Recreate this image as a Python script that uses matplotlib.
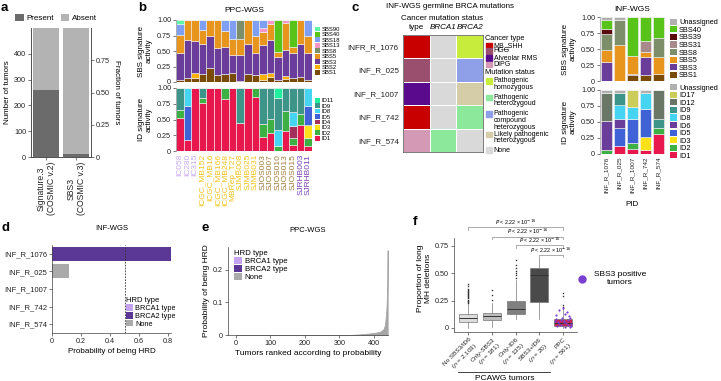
import matplotlib.pyplot as plt
import numpy as np
from matplotlib.colors import ListedColormap
from matplotlib.lines import Line2D
from matplotlib.patches import Patch, Rectangle

plt.rcParams['font.family'] = ['Liberation Sans', 'DejaVu Sans']
plt.rcParams['font.size'] = 5.5
plt.rcParams['axes.linewidth'] = 0.5
plt.rcParams['axes.edgecolor'] = '#444444'
for k in ['xtick', 'ytick']:
    plt.rcParams[k + '.major.width'] = 0.5
    plt.rcParams[k + '.major.size'] = 2
    plt.rcParams[k + '.major.pad'] = 1.5
    plt.rcParams[k + '.labelsize'] = 5.2
    plt.rcParams[k + '.color'] = '#444444'
    plt.rcParams[k + '.labelcolor'] = '#222222'
plt.rcParams['axes.labelsize'] = 5.8
plt.rcParams['axes.labelpad'] = 2

W, H = 721, 381

# ---- panel a
a_labels = ['Signature.3\n(COSMIC v.2)', 'SBS3\n(COSMIC v.3)']
a_present = [260, 12]
a_absent = [240, 488]

# ---- panel b (PPC-WGS)
ppc_samples = ['IC058', 'IC280', 'IC315', 'ICGC_MB152', 'ICGC_MB16', 'ICGC_MB166', 'ICGC_MB248',
               'MBRep_T27', 'SJMB008', 'SJMB025', 'SJMB031', 'SJOS003', 'SJOS007', 'SJOS010',
               'SJOS013', 'SJOS015', 'SJRHB003', 'SJRHB011']
ppc_groups = ['IC', 'IC', 'IC', 'MB', 'MB', 'MB', 'MB', 'MB', 'MB', 'MB', 'MB',
              'OS', 'OS', 'OS', 'OS', 'OS', 'RHB', 'RHB']
ppc_sbs_names = ['SBS1', 'SBS2', 'SBS3', 'SBS5', 'SBS8', 'SBS13', 'SBS18', 'SBS40', 'SBS90']
ppc_sbs = [
    [.04, .07, .07, .13, .23, .12, .13, .14, .02, .13, .12, .04, .08, .04, .05, .07, .08, .04],
    [0, 0, .08, 0, 0, 0, 0, 0, 0, 0, 0, .09, .06, 0, .04, 0, 0, 0],
    [.43, .61, .51, .49, .52, .43, .44, .30, .42, .49, .35, .47, .54, .36, .42, .39, .53, .43],
    [.29, .32, .34, .22, .25, .45, .25, .25, .25, .38, .28, .20, .26, .08, .44, .11, .39, .28],
    [0, 0, 0, 0, 0, 0, 0, 0, .31, 0, 0, 0, 0, 0, 0, 0, 0, 0],
    [0, 0, 0, 0, 0, 0, 0, 0, 0, 0, 0, .07, .06, 0, .05, 0, 0, 0],
    [.17, 0, 0, .16, 0, 0, .18, .31, 0, 0, .25, .13, 0, 0, 0, 0, 0, .25],
    [0, 0, 0, 0, 0, 0, 0, 0, 0, 0, 0, 0, 0, .52, 0, .43, 0, 0],
    [.07, 0, 0, 0, 0, 0, 0, 0, 0, 0, 0, 0, 0, 0, 0, 0, 0, 0],
]
ppc_id_names = ['ID1', 'ID2', 'ID3', 'ID4', 'ID5', 'ID8', 'ID9', 'ID11']
ppc_id = [
    [.53, .18, 1, .76, 1, 1, .82, 1, .44, 1, .85, .23, .28, 0, .31, .09, .41, .08],
    [.12, 0, 0, .08, 0, 0, .18, 0, 0, 0, .15, .20, .23, .08, .33, .12, .18, .13],
    [0, 0, 0, 0, 0, 0, 0, 0, 0, 0, 0, 0, 0, 0, 0, 0, 0, .20],
    [0, 0, 0, 0, 0, 0, 0, 0, 0, 0, 0, 0, 0, 0, 0, .18, 0, 0],
    [0, .54, 0, 0, 0, 0, 0, 0, 0, 0, 0, 0, 0, 0, 0, 0, 0, .31],
    [0, .28, 0, 0, 0, 0, 0, 0, 0, 0, 0, 0, 0, .25, 0, .23, 0, .28],
    [.35, 0, 0, .16, 0, 0, 0, 0, .56, 0, 0, .57, .49, .51, .36, .38, .41, 0],
    [0, 0, 0, 0, 0, 0, 0, 0, 0, 0, 0, 0, 0, .16, 0, 0, 0, 0],
]

# ---- panel c (INF-WGS)
c_title = 'INF-WGS germline BRCA mutations'
c_rows = ['INFR_R_1076', 'INF_R_025', 'INF_R_1007', 'INF_R_742', 'INF_R_574']
c_cancer_type = ['MB_SHH', 'HGG', 'Alveolar RMS', 'MB_SHH', 'DIPG']
c_brca1 = ['None', 'None', 'None', 'None', 'Pathogenic heterozygous']
c_brca2 = ['Pathogenic homozygous', 'Pathogenic compound heterozygous',
           'Likely pathogenic heterozygous', 'Pathogenic heterozygous', 'None']

inf_samples = ['INF_R_1076', 'INF_R_025', 'INF_R_1007', 'INF_R_742', 'INF_R_574']
inf_sbs_names = ['SBS1', 'SBS3', 'SBS5', 'SBS8', 'SBS31', 'SBS39', 'SBS40', 'Unassigned']
inf_sbs = [
    [0, 0, .10, .09, .11],
    [.29, 0, .01, .29, 0],
    [.20, .57, .28, .08, .27],
    [.25, .39, 0, 0, .29],
    [0, 0, 0, .17, 0],
    [.08, 0, 0, 0, 0],
    [.14, 0, .61, .37, .33],
    [.04, .04, 0, 0, 0],
]
inf_id_names = ['ID1', 'ID2', 'ID3', 'ID5', 'ID6', 'ID8', 'ID9', 'ID12', 'ID17', 'Unassigned']
inf_id = [
    [0, .12, .08, .07, .32],
    [.06, 0, .09, 0, .09],
    [0, 0, 0, .19, 0],
    [0, .29, .38, .45, 0],
    [.45, .13, 0, 0, 0],
    [0, .22, .18, .25, 0],
    [0, .19, 0, 0, .13],
    [.44, 0, 0, 0, .46],
    [0, 0, .27, 0, 0],
    [.05, .05, 0, .04, 0],
]

# ---- panel d
d_samples = ['INF_R_1076', 'INF_R_025', 'INF_R_1007', 'INF_R_742', 'INF_R_574']
d_prob = [0.82, 0.12, 0.003, 0.0, 0.0]
d_type = ['BRCA2 type', 'None', 'None', 'None', 'None']

# ---- panel e
e_rank = [1, 330, 360, 390, 410, 420, 428, 432, 435, 437, 438, 439, 440]
e_prob = [0, 0, 0.002, 0.005, 0.008, 0.011, 0.018, 0.03, 0.06, 0.09, 0.12, 0.15, 0.26]

# ---- panel f
f_labels = ['No SBS3/ID6\n($n$ = 2,103)', 'Only-SBS3\n($n$ = 181)', 'Only-ID6\n($n$ = 135)',
            'SBS3+ID6\n($n$ = 20)', 'PPC\n($n$ = 561)']
f_med = [0.09, 0.11, 0.175, 0.485, 0.043]
f_q1 = [0.058, 0.073, 0.125, 0.235, 0.02]
f_q3 = [0.125, 0.14, 0.25, 0.55, 0.083]
f_whislo = [0.0, 0.012, 0.08, 0.08, 0.0]
f_whishi = [0.22, 0.23, 0.44, 0.64, 0.17]
f_fliers = [
    [0.23, 0.24, 0.25, 0.26, 0.27, 0.28, 0.29, 0.30, 0.31, 0.32, 0.33, 0.34, 0.35, 0.36, 0.38, 0.40],
    [0.26, 0.30, 0.35],
    [0.46, 0.48, 0.50, 0.52, 0.55, 0.58, 0.62],
    [],
    [0.19, 0.21, 0.29, 0.32],
]
f_pos_dx = [-0.3, -0.2, -0.1, 0.05, 0.15, 0.25, 0.32, -0.25, -0.05, 0.1, 0.2, -0.35,
            0.3, 0.0, -0.15, 0.12, 0.28, -0.28, 0.08, -0.1, 0.22, 0.35, -0.18, 0.02]
f_pos_y = [0.12, 0.05, 0.03, 0.06, 0.15, 0.11, 0.04, 0.02, 0.09, 0.01, 0.07, 0.06,
           0.01, 0.18, 0.16, 0.045, 0.09, 0.085, 0.13, 0.07, 0.03, 0.02, 0.035, 0.055]
f_pairs = [(0, 4), (1, 4), (2, 4), (3, 4)]
f_pair_y = [0.92, 0.835, 0.755, 0.67]
f_pval = r'$P$ < 2.22 × 10$^{-16}$'

sig_colors = {
    'SBS1': '#7a4b05', 'SBS2': '#ffb000', 'SBS3': '#6a3d9a', 'SBS5': '#e8951e',
    'SBS8': '#7d8f6a', 'SBS13': '#f598c8', 'SBS18': '#7f9ff2', 'SBS31': '#a88a8c',
    'SBS39': '#5a0c0c', 'SBS40': '#58c41a', 'SBS90': '#5ef5a8',
    'ID1': '#e8174e', 'ID2': '#3cb043', 'ID3': '#ffe11a', 'ID4': '#a3305a',
    'ID5': '#3f62d6', 'ID6': '#6a3d9a', 'ID8': '#45d4f2', 'ID9': '#3d9488',
    'ID11': '#1ef0a0', 'ID12': '#6b7766', 'ID17': '#cccc5a', 'Unassigned': '#b0b0b0',
}
group_colors = {'IC': '#c8a8f0', 'MB': '#f2c31c', 'OS': '#a07a3c', 'RHB': '#7a3fb5'}
cat_colors = {
    'MB_SHH': '#c80000', 'HGG': '#9b4f6e', 'Alveolar RMS': '#5a0a8c', 'DIPG': '#d49ab5',
    'Pathogenic homozygous': '#c8ec3c', 'Pathogenic heterozygous': '#8ce89a',
    'Pathogenic compound heterozygous': '#8fa0e8', 'Likely pathogenic heterozygous': '#d5cca8',
    'None': '#d9d9d9',
}
hrd_colors = {'BRCA1 type': '#c4a4ee', 'BRCA2 type': '#5c3896', 'None': '#aaaaaa'}


def box(l, t, r, b):
    return [l / W, 1 - b / H, (r - l) / W, (b - t) / H]


def letter(x, y, s):
    fig.text(x / W, 1 - y / H, s, fontsize=9.5, fontweight='bold', va='top', ha='left')


def stacked(ax, names, rows, width):
    xs = np.arange(len(rows[0]))
    bottom = np.zeros(len(xs))
    for name, vals in zip(names, rows):
        vals = np.array(vals, dtype=float)
        ax.bar(xs, vals, bottom=bottom, width=width, color=sig_colors[name],
               edgecolor='#f2f2f2', linewidth=0.4)
        bottom += vals
    ax.set_xlim(-0.5, len(xs) - 0.5)
    ax.set_ylim(0, 1.0)
    ax.set_yticks([0, 0.25, 0.5, 0.75, 1.0])
    ax.set_yticklabels(['0', '0.25', '0.50', '0.75', '1.00'])
    for s in ['top', 'right', 'bottom']:
        ax.spines[s].set_visible(False)
    ax.spines['left'].set_color('#999999')
    return xs


def sig_legend(ax, names, fs, x=1.02):
    handles = [Patch(facecolor=sig_colors[n], label=n) for n in names[::-1]]
    ax.legend(handles=handles, loc='center left', bbox_to_anchor=(x, 0.5), frameon=False,
              fontsize=fs, handlelength=0.9, handleheight=0.9, labelspacing=0.0,
              handletextpad=0.3, borderaxespad=0, borderpad=0)


fig = plt.figure(figsize=(W / 100, H / 100), dpi=100)

# ---------------- a
ax = fig.add_axes(box(31, 28, 91, 157))
x = np.arange(len(a_labels))
ax.bar(x, a_present, width=0.87, color='#6b6b6b', label='Present')
ax.bar(x, a_absent, bottom=a_present, width=0.87, color='#b3b3b3', label='Absent')
ax.set_xlim(-0.5, 1.5)
ax.set_ylim(0, 500)
ax.set_yticks([0, 100, 200, 300, 400])
ax.set_xticks(x)
ax.set_xticklabels(a_labels, rotation=90, fontsize=6.2)
ax.set_ylabel('Number of tumors')
ax.spines['top'].set_visible(False)
ax.legend(loc='lower center', bbox_to_anchor=(0.42, 1.02), ncol=2, frameon=False, fontsize=5.8,
          handlelength=1.0, handleheight=1.0, columnspacing=0.8, handletextpad=0.4, borderaxespad=0)
ax2 = ax.twinx()
ax2.set_ylim(0, 1)
ax2.set_yticks([0, 0.25, 0.5, 0.75])
ax2.set_yticklabels(['0', '0.25', '0.50', '0.75'])
ax2.set_ylabel('Fraction of tumors', rotation=270, labelpad=7)
ax2.spines['top'].set_visible(False)
letter(1, 2, 'a')

# ---------------- b
ax_s = fig.add_axes(box(176, 20, 312, 82))
stacked(ax_s, ppc_sbs_names, ppc_sbs, 1.0)
ax_s.set_xticks([])
ax_s.set_ylabel('SBS signature\nactivity', labelpad=3)
ax_s.set_title('PPC-WGS', fontsize=6, pad=6)
sig_legend(ax_s, ppc_sbs_names, 4.2)
ax_i = fig.add_axes(box(176, 88, 312, 151))
xs = stacked(ax_i, ppc_id_names, ppc_id, 1.0)
ax_i.set_ylabel('ID signature\nactivity', labelpad=3)
ax_i.set_xticks(xs)
ax_i.set_xticklabels(ppc_samples, rotation=90, fontsize=6.0)
ax_i.tick_params(axis='x', length=0, pad=2)
for t, g in zip(ax_i.get_xticklabels(), ppc_groups):
    t.set_color(group_colors[g])
sig_legend(ax_i, ppc_id_names, 4.2)
letter(138, 2, 'b')

# ---------------- c heatmap
cats = list(cat_colors.keys())
mat = np.array([[cats.index(v) for v in (ct, b1, b2)]
                for ct, b1, b2 in zip(c_cancer_type, c_brca1, c_brca2)])
ax = fig.add_axes(box(403, 35, 483, 152))
ax.pcolormesh(mat, cmap=ListedColormap([cat_colors[c] for c in cats]), vmin=-0.5,
              vmax=len(cats) - 0.5, edgecolors='white', linewidth=0.6)
ax.set_xlim(0, 3)
ax.set_ylim(len(c_rows), 0)
ax.set_yticks(np.arange(len(c_rows)) + 0.5)
ax.set_yticklabels(c_rows, fontsize=5.8)
ax.tick_params(axis='y', length=0, pad=3)
ax.set_xticks([])
for s in ax.spines.values():
    s.set_color('#666666')
    s.set_linewidth(0.6)
hdr = dict(ha='center', va='center', fontsize=5.8)
ax.text(0.5, -0.3, 'type', **hdr)
ax.text(1.5, -0.3, 'BRCA1', style='italic', **hdr)
ax.text(2.5, -0.3, 'BRCA2', style='italic', **hdr)
ax.text(1.45, -0.69, 'Cancer mutation status', **hdr)
fig.text(450 / W, 1 - 6 / H, c_title, ha='center', va='center', fontsize=5.8)
letter(352, 2, 'c')

# c legend (pixel coordinates)
lax = fig.add_axes(box(484, 35, 568, 157))
lax.set_xlim(484, 568)
lax.set_ylim(157, 35)
lax.axis('off')
lax.text(485, 39, 'Cancer type', fontsize=5.3, va='center')
legend_rows = [
    ('MB_SHH', 'MB_SHH', 45.5), ('HGG', 'HGG', 51), ('Alveolar RMS', 'Alveolar RMS', 58),
    ('DIPG', 'DIPG', 64.5),
    ('Pathogenic homozygous', 'Pathogenic\nhomozygous', 81),
    ('Pathogenic heterozygous', 'Pathogenic\nheterozygoud', 97.5),
    ('Pathogenic compound heterozygous', 'Pathogenic\ncompound\nheterozygous', 114),
    ('Likely pathogenic heterozygous', 'Likely pathogenic\nheterozygous', 134.5),
    ('None', 'None', 150),
]
lax.text(485, 73, 'Mutation status', fontsize=5.3, va='center')
for key, lab, yc in legend_rows:
    lax.add_patch(Rectangle((486, yc - 2.8), 5.6, 5.6, color=cat_colors[key]))
    if '\n' not in lab:
        lax.text(493.5, yc, lab, fontsize=5.0, va='center')
    else:
        lax.text(493.5, yc - 3.8, lab, fontsize=5.0, va='top', linespacing=0.95)

# c right: INF-WGS signatures
ax_s = fig.add_axes(box(600, 17, 665, 81))
stacked(ax_s, inf_sbs_names, inf_sbs, 0.88)
ax_s.set_xticks([])
ax_s.set_ylabel('SBS signature\nactivity', labelpad=3)
ax_s.set_title('INF-WGS', fontsize=6, pad=4)
sig_legend(ax_s, inf_sbs_names, 5.3, x=1.08)
ax_i = fig.add_axes(box(600, 90, 665, 154))
xs = stacked(ax_i, inf_id_names, inf_id, 0.88)
ax_i.set_ylabel('ID signature\nactivity', labelpad=3)
ax_i.set_xticks(xs)
ax_i.set_xticklabels(inf_samples, rotation=90, fontsize=4.6)
ax_i.tick_params(axis='x', length=0, pad=2)
ax_i.set_xlabel('PID', labelpad=6)
sig_legend(ax_i, inf_id_names, 5.3, x=1.08)

# ---------------- d
ax = fig.add_axes(box(52, 245, 171, 333))
yd = np.arange(len(d_samples))
ax.barh(yd, d_prob, height=0.8, color=[hrd_colors[t] for t in d_type])
ax.axvline(0.5, color='#333333', lw=0.6, ls=(0, (2, 1.5)))
ax.set_ylim(len(d_samples) - 0.5, -0.5)
ax.set_xlim(0, 0.82)
ax.set_yticks(yd)
ax.set_yticklabels(d_samples, fontsize=5.5)
ax.set_xticks([0, 0.2, 0.4, 0.6, 0.8])
ax.set_xticklabels(['0', '0.2', '0.4', '0.6', '0.8'])
ax.set_xlabel('Probability of being HRD')
ax.set_title('INF-WGS', fontsize=5.5, pad=11)
for s in ['top', 'right']:
    ax.spines[s].set_visible(False)
ax.legend(handles=[Patch(facecolor=c, label=k) for k, c in hrd_colors.items()],
          title='HRD type', title_fontsize=5.5, fontsize=5.3, alignment='left', loc='lower left',
          bbox_to_anchor=(0.62, 0.06), frameon=False, handlelength=1.0, handleheight=1.0,
          labelspacing=0.0, handletextpad=0.3, borderpad=0, borderaxespad=0)
letter(1, 222, 'd')

# ---------------- e
ax = fig.add_axes(box(228, 247, 388, 335))
ax.fill_between(e_rank, e_prob, color='#a6a6a6', lw=0.6, edgecolor='#a6a6a6')
ax.set_xlim(-23, 441)
ax.set_ylim(0, 0.27)
ax.set_xticks([0, 100, 200, 300, 400])
ax.set_yticks([0, 0.1, 0.2])
ax.set_yticklabels(['0', '0.1', '0.2'])
ax.set_xlabel('Tumors ranked according to probability', fontsize=6)
ax.set_ylabel('Probability of being HRD', fontsize=6)
ax.set_title('PPC-WGS', fontsize=5.5, pad=11)
for s in ['top', 'right']:
    ax.spines[s].set_visible(False)
ax.legend(handles=[Patch(facecolor=c, label=k) for k, c in hrd_colors.items()],
          title='HRD type', title_fontsize=5.6, fontsize=5.6, alignment='left', loc='upper left',
          bbox_to_anchor=(0.04, 0.97), frameon=False, handlelength=1.0, handleheight=1.0,
          labelspacing=0.0, handletextpad=0.3, borderpad=0, borderaxespad=0)
letter(202, 222, 'e')

# ---------------- f
ax = fig.add_axes(box(454, 225, 577, 332))
stats = []
for i in range(len(f_labels)):
    stats.append({'med': f_med[i], 'q1': f_q1[i], 'q3': f_q3[i], 'whislo': f_whislo[i],
                  'whishi': f_whishi[i], 'fliers': f_fliers[i]})
box_colors = ['#dcdcdc', '#bdbdbd', '#7f7f7f', '#4a4a4a', '#c8264f']
bp = ax.bxp(stats, positions=np.arange(len(stats)), widths=0.76, patch_artist=True,
            showcaps=False,
            boxprops={'linewidth': 0.5, 'edgecolor': '#777777'},
            whiskerprops={'linewidth': 0.5, 'color': '#777777'},
            medianprops={'linewidth': 0.7, 'color': '#333333'},
            flierprops={'marker': 's', 'markersize': 1.0, 'markerfacecolor': '#333333',
                        'markeredgecolor': 'none'})
for patch, c in zip(bp['boxes'], box_colors):
    patch.set_facecolor(c)
ax.scatter(4 + np.array(f_pos_dx), f_pos_y, s=2.5, color='#7b3fd0', zorder=5, lw=0)
for (x0, x1), yb in zip(f_pairs, f_pair_y):
    ax.plot([x0, x0, x1, x1], [yb - 0.02, yb, yb, yb - 0.02], color='#888888', lw=0.5,
            clip_on=False)
    ax.text((x0 + x1) / 2, yb + 0.002, f_pval, ha='center', va='bottom',
            fontsize=3.9, clip_on=False)
ax.set_xlim(-0.61, 4.59)
ax.set_ylim(-0.037, 0.942)
ax.spines['left'].set_bounds(-0.037, 0.82)
ax.set_yticks([0, 0.25, 0.5, 0.75])
ax.set_yticklabels(['0', '0.25', '0.50', '0.75'])
ax.set_xticks(np.arange(len(f_labels)))
ax.set_xticklabels(f_labels, rotation=45, ha='right', rotation_mode='anchor', fontsize=4.6)
ax.set_ylabel('Proportion of long\nMH deletions', fontsize=6)
for s in ['top', 'right']:
    ax.spines[s].set_visible(False)
leg = fig.legend(handles=[Line2D([], [], marker='o', ls='none', color='#7b3fd0', markersize=5,
                                 label='SBS3 positive\ntumors')],
                 loc='center left', bbox_to_anchor=(569 / W, 1 - 279 / H), frameon=False,
                 fontsize=6, handletextpad=0.5, borderpad=0)
for t in leg.get_texts():
    t.set_multialignment('center')
fig.add_artist(Line2D([458 / W, 550 / W], [1 - 372 / H] * 2, lw=0.6, color='#222222'))
fig.text(505 / W, 1 - 378 / H, 'PCAWG tumors', ha='center', va='center', fontsize=6)
letter(413, 216, 'f')

fig.savefig('out.png', dpi=100)
